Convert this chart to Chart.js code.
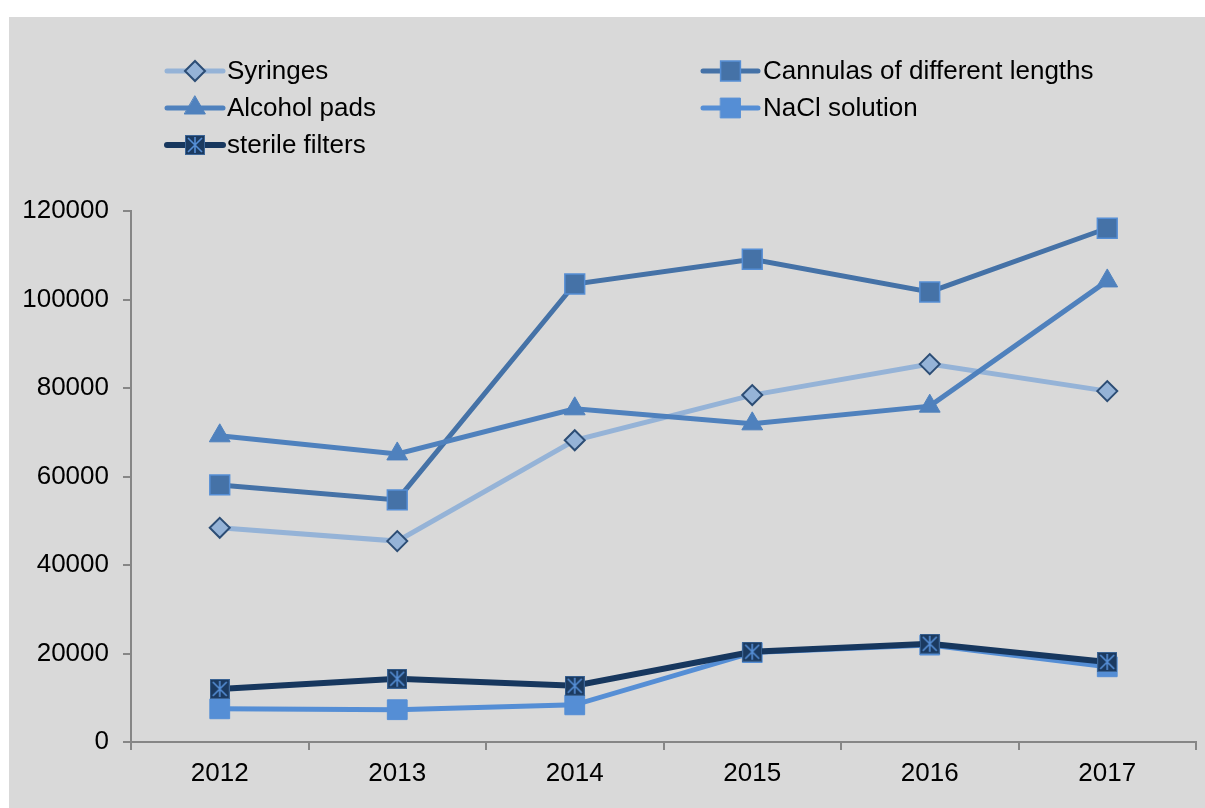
<!DOCTYPE html>
<html>
<head>
<meta charset="utf-8">
<script src="https://cdn.jsdelivr.net/npm/chart.js@4.4.0/dist/chart.umd.min.js"></script>
<style>
body { margin: 0; background: #fff; }
#wrap { position: absolute; left: 9px; top: 17px; width: 1196px; height: 791px; background: #d9d9d9; }
</style>
</head>
<body>
<div id="wrap"><canvas id="myChart" width="1196" height="791"></canvas></div>
<script>
var years = ["2012", "2013", "2014", "2015", "2016", "2017"];
var syringes = [48400, 45400, 68200, 78400, 85400, 79300];
var cannulas = [58100, 54700, 103500, 109100, 101700, 116100];
var alcoholPads = [69200, 65100, 75300, 71900, 75900, 104200];
var naclSolution = [7500, 7300, 8400, 20200, 21900, 17000];
var sterileFilters = [12000, 14300, 12700, 20400, 22200, 18100];
var yTicks = [0, 20000, 40000, 60000, 80000, 100000, 120000];

// square with a light asterisk, like the office marker
function starMarker(size) {
    var c = document.createElement('canvas');
    c.width = size; c.height = size;
    var g = c.getContext('2d');
    g.fillStyle = '#1b3a60';
    g.fillRect(0, 0, size, size);
    g.strokeStyle = '#558ed5';
    g.lineWidth = 1.6;
    g.beginPath();
    g.moveTo(3, 3); g.lineTo(size - 3, size - 3);
    g.moveTo(size - 3, 3); g.lineTo(3, size - 3);
    g.moveTo(size / 2, 2); g.lineTo(size / 2, size - 2);
    g.stroke();
    g.strokeStyle = '#3c6596';
    g.lineWidth = 1;
    g.strokeRect(0.5, 0.5, size - 1, size - 1);
    return c;
}
var star = starMarker(20);

var legendPlugin = {
    id: 'twoColLegend',
    afterDraw: function (chart) {
        var ctx = chart.ctx;
        var cols = [{ x0: 158, x1: 214, tx: 218 }, { x0: 694, x1: 749, tx: 754 }];
        var rows = [54, 91, 128];
        chart.data.datasets.forEach(function (ds, i) {
            var col = cols[i % 2], y = rows[Math.floor(i / 2)];
            ctx.save();
            ctx.strokeStyle = ds.borderColor;
            ctx.lineWidth = ds.borderWidth;
            ctx.lineCap = 'round';
            ctx.beginPath();
            ctx.moveTo(col.x0, y);
            ctx.lineTo(col.x1, y);
            ctx.stroke();
            var mx = (col.x0 + col.x1) / 2;
            if (ds.pointStyle instanceof HTMLCanvasElement) {
                ctx.drawImage(ds.pointStyle, mx - ds.pointStyle.width / 2, y - ds.pointStyle.height / 2);
            } else {
                ctx.fillStyle = ds.pointBackgroundColor;
                ctx.strokeStyle = ds.pointBorderColor;
                ctx.lineWidth = ds.pointBorderWidth;
                Chart.helpers.drawPoint(ctx, { pointStyle: ds.pointStyle, radius: ds.pointRadius, borderWidth: ds.pointBorderWidth, rotation: 0 }, mx, y);
            }
            ctx.fillStyle = '#000';
            ctx.font = '26px "Liberation Sans", Arial, sans-serif';
            ctx.textBaseline = 'middle';
            ctx.fillText(ds.label, col.tx, y + 1);
            ctx.restore();
        });
    }
};

var ctx = document.getElementById("myChart");

var myChart = new Chart(ctx, {
    type: 'line',
    data: {
        labels: years,
        datasets: [
            {
                label: "Syringes",
                data: syringes,
                borderColor: "#95b3d7",
                borderWidth: 5,
                pointStyle: 'rectRot',
                pointRadius: 10,
                pointBackgroundColor: "#95b3d7",
                pointBorderColor: "#2c4d75",
                pointBorderWidth: 2,
                order: 4
            },
            {
                label: "Cannulas of different lengths",
                data: cannulas,
                borderColor: "#4572a7",
                borderWidth: 5,
                pointStyle: 'rect',
                pointRadius: 14,
                pointBackgroundColor: "#4572a7",
                pointBorderColor: "#558ed5",
                pointBorderWidth: 1.5,
                order: 3
            },
            {
                label: "Alcohol pads",
                data: alcoholPads,
                borderColor: "#4f81bd",
                borderWidth: 5,
                pointStyle: 'triangle',
                pointRadius: 12,
                pointBackgroundColor: "#4f81bd",
                pointBorderColor: "#4f81bd",
                pointBorderWidth: 1,
                order: 2
            },
            {
                label: "NaCl solution",
                data: naclSolution,
                borderColor: "#558ed5",
                borderWidth: 5,
                pointStyle: 'rect',
                pointRadius: 14,
                pointBackgroundColor: "#558ed5",
                pointBorderColor: "#558ed5",
                pointBorderWidth: 1,
                order: 1
            },
            {
                label: "sterile filters",
                data: sterileFilters,
                borderColor: "#17375e",
                borderWidth: 6,
                pointStyle: star,
                pointRadius: 10,
                order: 0
            }
        ]
    },
    options: {
        responsive: false,
        animation: false,
        devicePixelRatio: 1,
        layout: { autoPadding: false, padding: { top: 194, right: 9, left: 0, bottom: 0 } },
        plugins: { legend: { display: false }, tooltip: { enabled: false } },
        scales: {
            x: {
                offset: true,
                grid: { offset: true, drawOnChartArea: false, drawTicks: true, tickLength: 8, color: '#868686', lineWidth: 2 },
                border: { color: '#868686', width: 2 },
                ticks: { color: '#000', padding: 8, font: { size: 26, family: '"Liberation Sans", Arial, sans-serif' } },
                afterFit: function (s) { s.height = 66; s.paddingLeft = 0; s.paddingRight = 0; }
            },
            y: {
                min: 0,
                max: 120000,
                afterBuildTicks: function (s) { s.ticks = yTicks.map(function (v) { return { value: v }; }); },
                grid: { drawOnChartArea: false, drawTicks: true, tickLength: 8, color: '#868686', lineWidth: 2 },
                border: { color: '#868686', width: 2 },
                ticks: {
                    color: '#000', padding: 14, font: { size: 26, family: '"Liberation Sans", Arial, sans-serif' },
                    callback: function (v) { return String(v); }
                },
                afterFit: function (s) { s.width = 122; }
            }
        }
    },
    plugins: [legendPlugin]
});
</script>
</body>
</html>
